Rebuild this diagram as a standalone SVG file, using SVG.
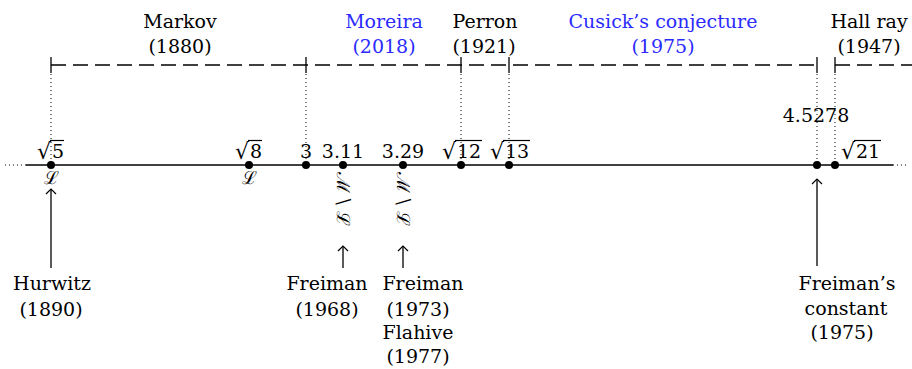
<svg xmlns="http://www.w3.org/2000/svg" width="912" height="369" viewBox="0 0 912 369">
<defs>
<style>
text{font-family:'DejaVu Serif',serif;font-size:19px;fill:#000}
.c{text-anchor:middle}
.b{fill:#2b2bff}
.r{font-size:22px}
.m{font-family:'DejaVu Serif',serif;font-size:18px}
.main{stroke:#000;stroke-width:1.4;fill:none}
.dash{stroke:#000;stroke-width:1.3;stroke-dasharray:15 7;fill:none}
.dot{stroke:#000;stroke-width:1;stroke-dasharray:1 3;fill:none}
.tick{stroke:#000;stroke-width:1.3}
.ov{stroke:#000;stroke-width:1.2}
.arr{stroke:#000;stroke-width:1.3;fill:none;marker-end:url(#to)}
</style>
<marker id="to" viewBox="-6 -6 12 12" markerWidth="12" markerHeight="12" refX="0" refY="0" orient="auto" markerUnits="userSpaceOnUse">
<path d="M-5,-5 Q-1,-1 0,0 Q-1,1 -5,5" stroke="#000" stroke-width="1.2" fill="none"/>
</marker>
</defs>
<g id="connectors">
<path class="dot" d="M5,165H26M893,165H908"/>
<line class="main" x1="26" y1="165" x2="893" y2="165"/>
<path class="dash" d="M51,65H817"/>
<path class="dash" d="M835,65H912"/>
<path class="tick" d="M51,57V73M306,57V73M461,57V73M509,57V73M817,57V73M835,57V73"/>
<path class="dot" d="M51,74V160M306,74V160M461,74V160M509,74V160M817,74V160M835,74V160"/>
<line class="arr" x1="51" y1="268" x2="51" y2="189"/>
<line class="arr" x1="343" y1="268" x2="343" y2="246"/>
<line class="arr" x1="403" y1="268" x2="403" y2="246"/>
<line class="arr" x1="817" y1="266" x2="817" y2="179"/>
</g>
<g id="points" fill="#000">
<circle cx="51" cy="165" r="4"/>
<circle cx="249" cy="165" r="4"/>
<circle cx="306" cy="165" r="4"/>
<circle cx="343" cy="165" r="4"/>
<circle cx="403" cy="165" r="4"/>
<circle cx="461" cy="165" r="4"/>
<circle cx="509" cy="165" r="4"/>
<circle cx="817" cy="165" r="4"/>
<circle cx="835" cy="165" r="4"/>
</g>
<g id="markov"><text class="c" x="180" y="28">Markov</text><text class="c" x="180" y="53">(1880)</text></g>
<g id="moreira"><text class="c b" x="384" y="28">Moreira</text><text class="c b" x="384" y="53">(2018)</text></g>
<g id="perron"><text class="c" x="485" y="28">Perron</text><text class="c" x="484" y="53">(1921)</text></g>
<g id="cusick"><text class="c b" x="663" y="28">Cusick’s conjecture</text><text class="c b" x="663" y="53">(1975)</text></g>
<g id="hallray"><text class="c" x="869" y="28">Hall ray</text><text class="c" x="869" y="53">(1947)</text></g>
<g id="sqrt5"><text class="r" x="37" y="159">√</text><text x="52" y="158">5</text><line class="ov" x1="50" y1="140.5" x2="64" y2="140.5"/><text class="c m" x="51" y="184">ℒ</text></g>
<g id="sqrt8"><text class="r" x="235" y="159">√</text><text x="250" y="158">8</text><line class="ov" x1="248" y1="140.5" x2="262" y2="140.5"/><text class="c m" x="249" y="184">ℒ</text></g>
<g id="three"><text class="c" x="306" y="158">3</text></g>
<g id="p311"><text class="c" x="343" y="158">3.11</text><text class="m" transform="translate(337,172) rotate(90)">ℳ \ ℒ</text></g>
<g id="p329"><text class="c" x="403" y="158">3.29</text><text class="m" transform="translate(397,172) rotate(90)">ℳ \ ℒ</text></g>
<g id="sqrt12"><text class="r" x="442" y="159">√</text><text x="457" y="158">12</text><line class="ov" x1="455" y1="140.5" x2="482" y2="140.5"/></g>
<g id="sqrt13"><text class="r" x="490" y="159">√</text><text x="505" y="158">13</text><line class="ov" x1="503" y1="140.5" x2="530" y2="140.5"/></g>
<g id="c45278"><text class="c" x="816" y="122">4.5278</text></g>
<g id="sqrt21"><text class="r" x="841" y="159">√</text><text x="856" y="158">21</text><line class="ov" x1="854" y1="140.5" x2="881" y2="140.5"/></g>
<g id="hurwitz"><text class="c" x="52" y="290">Hurwitz</text><text class="c" x="51" y="316">(1890)</text></g>
<g id="freiman1968"><text class="c" x="327" y="290">Freiman</text><text class="c" x="327" y="316">(1968)</text></g>
<g id="freiman1973"><text class="c" x="423" y="290">Freiman</text><text class="c" x="418" y="316">(1973)</text><text class="c" x="418" y="339">Flahive</text><text class="c" x="418" y="363">(1977)</text></g>
<g id="freimanconst"><text class="c" x="847" y="290">Freiman’s</text><text class="c" x="846" y="315">constant</text><text class="c" x="842" y="339">(1975)</text></g>
</svg>
